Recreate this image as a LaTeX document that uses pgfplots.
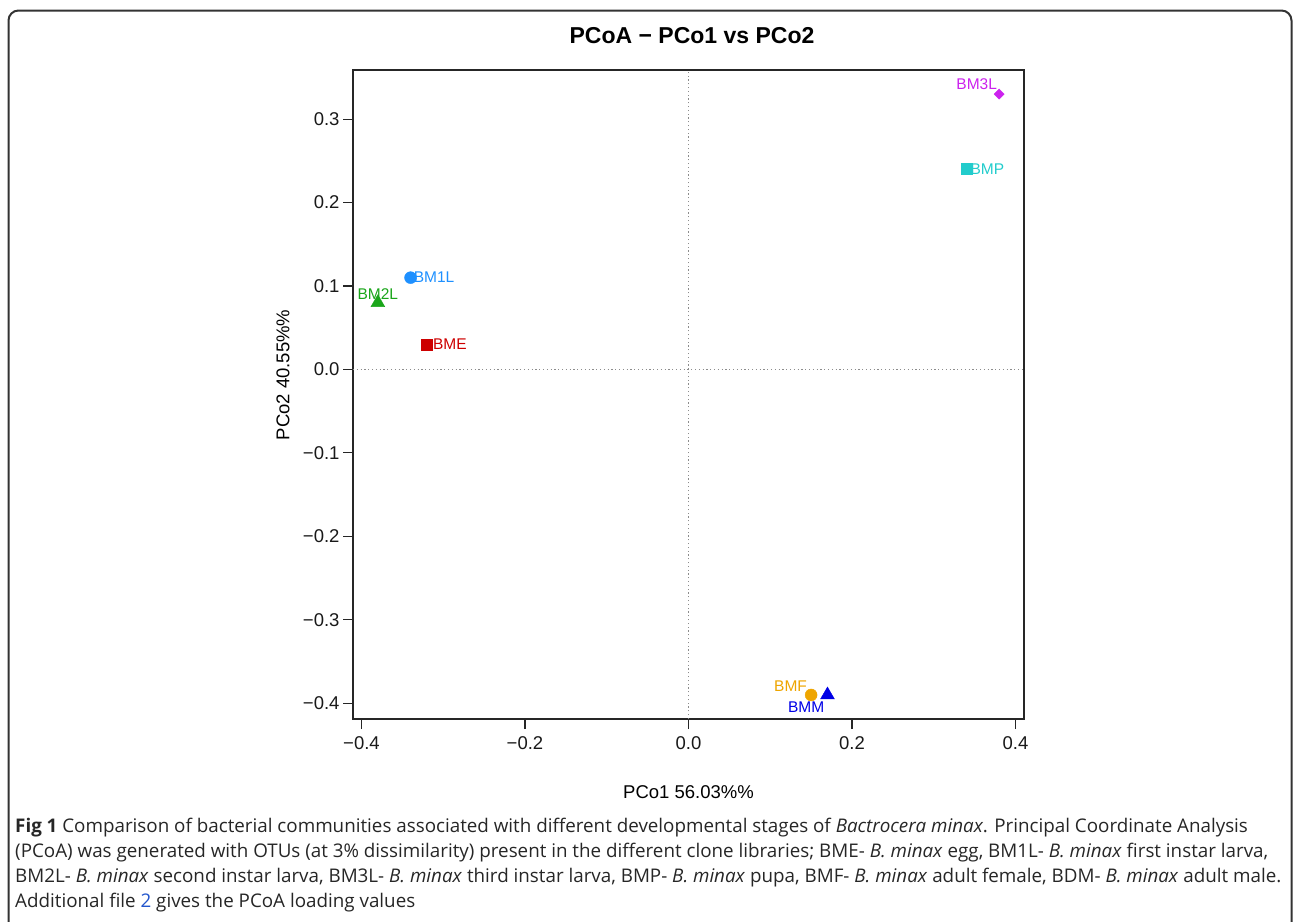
\documentclass[border=0pt]{standalone}
\usepackage{pgfplots}
\pgfplotsset{compat=1.18}
\usepackage{fontspec}
\setmainfont{Liberation Sans}
\newfontfamily\capfont{Open Sans}

\definecolor{cBME}{HTML}{CD0000}
\definecolor{cBMone}{HTML}{1E90FF}
\definecolor{cBMtwo}{HTML}{1AA61A}
\definecolor{cBMthree}{HTML}{CC22EE}
\definecolor{cBMP}{HTML}{22CCCC}
\definecolor{cBMF}{HTML}{EEA500}
\definecolor{cBMM}{HTML}{0000E6}
\definecolor{linkblue}{HTML}{2255CC}
\definecolor{frame}{HTML}{333333}

\newcommand{\lab}{\fontsize{15.5}{17}\selectfont}

\begin{document}
\begin{tikzpicture}[x=1pt,y=1pt]
\path[use as bounding box] (0,0) rectangle (1293,-921);
\draw[line width=2pt, frame, rounded corners=10pt]
  (8.5,-980) -- (8.5,-10.5) -- (1291.5,-10.5) -- (1291.5,-980);

\begin{axis}[
  at={(353pt,-719pt)}, anchor=south west,
  width=671pt, height=649pt, scale only axis,
  xmin=-0.4104, xmax=0.4104, ymin=-0.4188, ymax=0.3588,
  xtick={-0.4,-0.2,0,0.2,0.4},
  xticklabels={−0.4,−0.2,0.0,0.2,0.4},
  ytick={-0.4,-0.3,-0.2,-0.1,0,0.1,0.2,0.3},
  yticklabels={−0.4,−0.3,−0.2,−0.1,0.0,0.1,0.2,0.3},
  xtick pos=bottom, ytick pos=left,
  tick align=outside, major tick length=10pt,
  tick style={black!85, line width=1.1pt},
  axis line style={black!85, line width=1.2pt},
  tick label style={font=\fontsize{18.5}{20}\selectfont, black!90},
  xticklabel style={yshift=-4pt},
  extra x ticks={0}, extra y ticks={0},
  extra x tick labels={}, extra y tick labels={},
  extra tick style={grid=major, major tick length=0pt,
    major grid style={black!45, line width=0.8pt, dash pattern=on 1.2pt off 2.6pt}},
  clip=false,
]
\addplot[only marks, mark=square*, mark size=5.5pt, color=cBME] coordinates {(-0.32,0.03)};
\addplot[only marks, mark=*, mark size=6pt, color=cBMone] coordinates {(-0.34,0.11)};
\addplot[only marks, mark=triangle*, mark size=8pt, color=cBMtwo] coordinates {(-0.38,0.08)};
\addplot[only marks, mark=square*, mark size=3.6pt, mark options={rotate=45}, color=cBMthree] coordinates {(0.38,0.33)};
\addplot[only marks, mark=square*, mark size=5.5pt, color=cBMP] coordinates {(0.34,0.24)};
\addplot[only marks, mark=*, mark size=6pt, color=cBMF] coordinates {(0.15,-0.39)};
\addplot[only marks, mark=triangle*, mark size=8pt, color=cBMM] coordinates {(0.17,-0.39)};

\begin{scope}[every node/.style={inner sep=0pt, font=\lab}]
\node[cBMthree, anchor=east, xshift=-2pt, yshift=10pt] at (axis cs:0.38,0.33) {BM3L};
\node[cBMP, anchor=west, xshift=4pt] at (axis cs:0.34,0.24) {BMP};
\node[cBMone, anchor=west, xshift=3pt] at (axis cs:-0.34,0.11) {BM1L};
\node[cBMtwo, yshift=9pt] at (axis cs:-0.38,0.08) {BM2L};
\node[cBME, anchor=west, xshift=6pt] at (axis cs:-0.32,0.03) {BME};
\node[cBMF, anchor=east, xshift=-4pt, yshift=9pt] at (axis cs:0.15,-0.39) {BMF};
\node[cBMM, anchor=east, xshift=-3pt, yshift=-12pt] at (axis cs:0.17,-0.39) {BMM};
\end{scope}
\end{axis}

% titles
\node[anchor=base, inner sep=0pt, font=\bfseries\fontsize{23}{25}\selectfont] at (692,-43) {PCoA − PCo1 vs PCo2};
\node[anchor=base, inner sep=0pt, font=\fontsize{18.5}{20}\selectfont] at (688.5,-798) {PCo1 56.03\%\%};
\node[rotate=90, inner sep=0pt, font=\fontsize{18.5}{20}\selectfont] at (283,-375) {PCo2 40.55\%\%};

% caption
\begin{scope}[every node/.style={anchor=base west, inner sep=0pt, text=black!85, font=\capfont\fontsize{18.8}{21}\selectfont}]
\node at (15,-832) {\textbf{Fig 1} Comparison of bacterial communities associated with different developmental stages of \textit{Bactrocera minax}. Principal Coordinate Analysis};
\node at (15,-857) {(PCoA) was generated with OTUs (at 3\% dissimilarity) present in the different clone libraries; BME- \textit{B. minax} egg, BM1L- \textit{B. minax} first instar larva,};
\node at (15,-882) {BM2L- \textit{B. minax} second instar larva, BM3L- \textit{B. minax} third instar larva, BMP- \textit{B. minax} pupa, BMF- \textit{B. minax} adult female, BDM- \textit{B. minax} adult male.};
\node at (15,-907) {Additional file {\color{linkblue}2} gives the PCoA loading values};
\end{scope}
\end{tikzpicture}
\end{document}
